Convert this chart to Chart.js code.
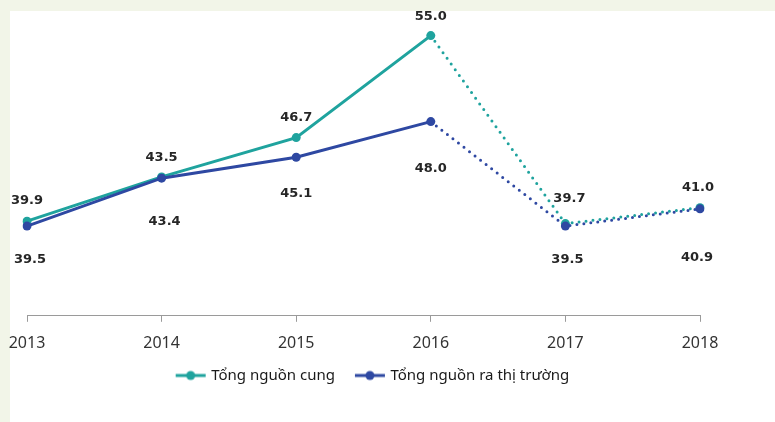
<!DOCTYPE html>
<html>
<head>
<meta charset="utf-8">
<script src="https://cdn.jsdelivr.net/npm/chart.js@4.4.1/dist/chart.umd.min.js"></script>
<style>
  html, body { margin: 0; padding: 0; background: #f2f5e8; }
  #wrap { position: relative; width: 775px; height: 422px; overflow: hidden; }
  #paper { position: absolute; left: 10px; top: 11px; right: 0; bottom: 0; background: #fff; }
  #chart { position: absolute; left: 0; top: 0; }
</style>
</head>
<body>
<div id="wrap">
  <div id="paper"></div>
  <canvas id="chart" width="775" height="422"></canvas>
</div>
<script>
const years = ['2013', '2014', '2015', '2016', '2017', '2018']
const supplyLabel = 'Tổng nguồn cung'
const marketLabel = 'Tổng nguồn ra thị trường'
const supply = [39.9, 43.5, 46.7, 55.0, 39.7, 41.0]
const market = [39.5, 43.4, 45.1, 48.0, 39.5, 40.9]

const teal = '#1fa39e'
const blue = '#2e48a2'

// dotted from 2016 on (estimated years)
const dottedFrom = 3

// label offsets from each point, px
const supplyOffsets = [[0, -21], [0, -19], [0, -20], [0, -19], [4, -25], [-2, -20]]
const marketOffsets = [[3, 34], [3, 43], [0, 36], [0, 47], [2, 34], [-3, 49]]

function legendIcon(color) {
    const c = document.createElement('canvas')
    c.width = 32
    c.height = 12
    const g = c.getContext('2d')
    g.strokeStyle = color
    g.lineWidth = 3
    g.beginPath()
    g.moveTo(1, 6)
    g.lineTo(31, 6)
    g.stroke()
    g.fillStyle = color
    g.beginPath()
    g.arc(16, 6, 4.5, 0, Math.PI * 2)
    g.fill()
    return c
}

const valueLabels = {
    id: 'valueLabels',
    afterLayout(chart) {
        // legend sits closer to the axis and a little right of centre
        const lg = chart.legend
        lg.left += 10
        lg.right += 10
        lg.top -= 19
        lg.bottom -= 19
    },
    afterDatasetsDraw(chart) {
        const { ctx } = chart
        ctx.save()
        ctx.font = 'bold 13px "DejaVu Sans"'
        ctx.fillStyle = '#262626'
        ctx.textAlign = 'center'
        ctx.textBaseline = 'middle'
        chart.data.datasets.forEach((ds, i) => {
            const meta = chart.getDatasetMeta(i)
            const offs = ds.labelOffsets
            meta.data.forEach((pt, j) => {
                ctx.fillText(ds.data[j].toFixed(1), pt.x + offs[j][0], pt.y + offs[j][1])
            })
        })
        ctx.restore()
    }
}

const dotted = (ctx) => ctx.p0DataIndex >= dottedFrom ? [0, 7] : undefined

new Chart(document.getElementById('chart'), {
    type: 'line',
    data: {
        labels: years,
        datasets: [
            {
                label: supplyLabel,
                data: supply,
                labelOffsets: supplyOffsets,
                borderColor: teal,
                backgroundColor: teal,
                borderWidth: 3,
                borderCapStyle: 'round',
                pointRadius: 4.5,
                pointHoverRadius: 4.5,
                pointBorderWidth: 0,
                order: 1,
                segment: { borderDash: dotted }
            },
            {
                label: marketLabel,
                data: market,
                labelOffsets: marketOffsets,
                borderColor: blue,
                backgroundColor: blue,
                borderWidth: 3,
                borderCapStyle: 'round',
                pointRadius: 4.5,
                pointHoverRadius: 4.5,
                pointBorderWidth: 0,
                order: 0,
                segment: { borderDash: dotted }
            }
        ]
    },
    options: {
        responsive: false,
        animation: false,
        layout: { padding: { left: 27, right: 75, top: 11, bottom: 10 } },
        scales: {
            x: {
                offset: false,
                afterFit(scale) {
                    scale.paddingLeft = 0
                    scale.paddingRight = 0
                },
                grid: { drawOnChartArea: false, drawTicks: true, tickLength: 6, color: '#9a9a9a' },
                border: { display: true, color: '#9a9a9a', width: 1 },
                ticks: { color: '#333', font: { family: 'Noto Sans', size: 16 }, padding: 12 }
            },
            y: { display: false, min: 32.2, max: 57 }
        },
        plugins: {
            legend: {
                position: 'bottom',
                labels: {
                    usePointStyle: true,
                    pointStyleWidth: 26,
                    padding: 22,
                    color: '#1a1a1a',
                    font: { family: 'Noto Sans', size: 15 },
                    sort: (a, b) => a.datasetIndex - b.datasetIndex,
                    generateLabels(chart) {
                        return chart.data.datasets.map((ds, i) => ({
                            text: ds.label,
                            datasetIndex: i,
                            pointStyle: legendIcon(ds.borderColor),
                            fontColor: '#1a1a1a',
                            lineWidth: 0,
                            hidden: false
                        }))
                    }
                }
            },
            tooltip: { enabled: false }
        }
    },
    plugins: [valueLabels]
})
</script>
</body>
</html>
